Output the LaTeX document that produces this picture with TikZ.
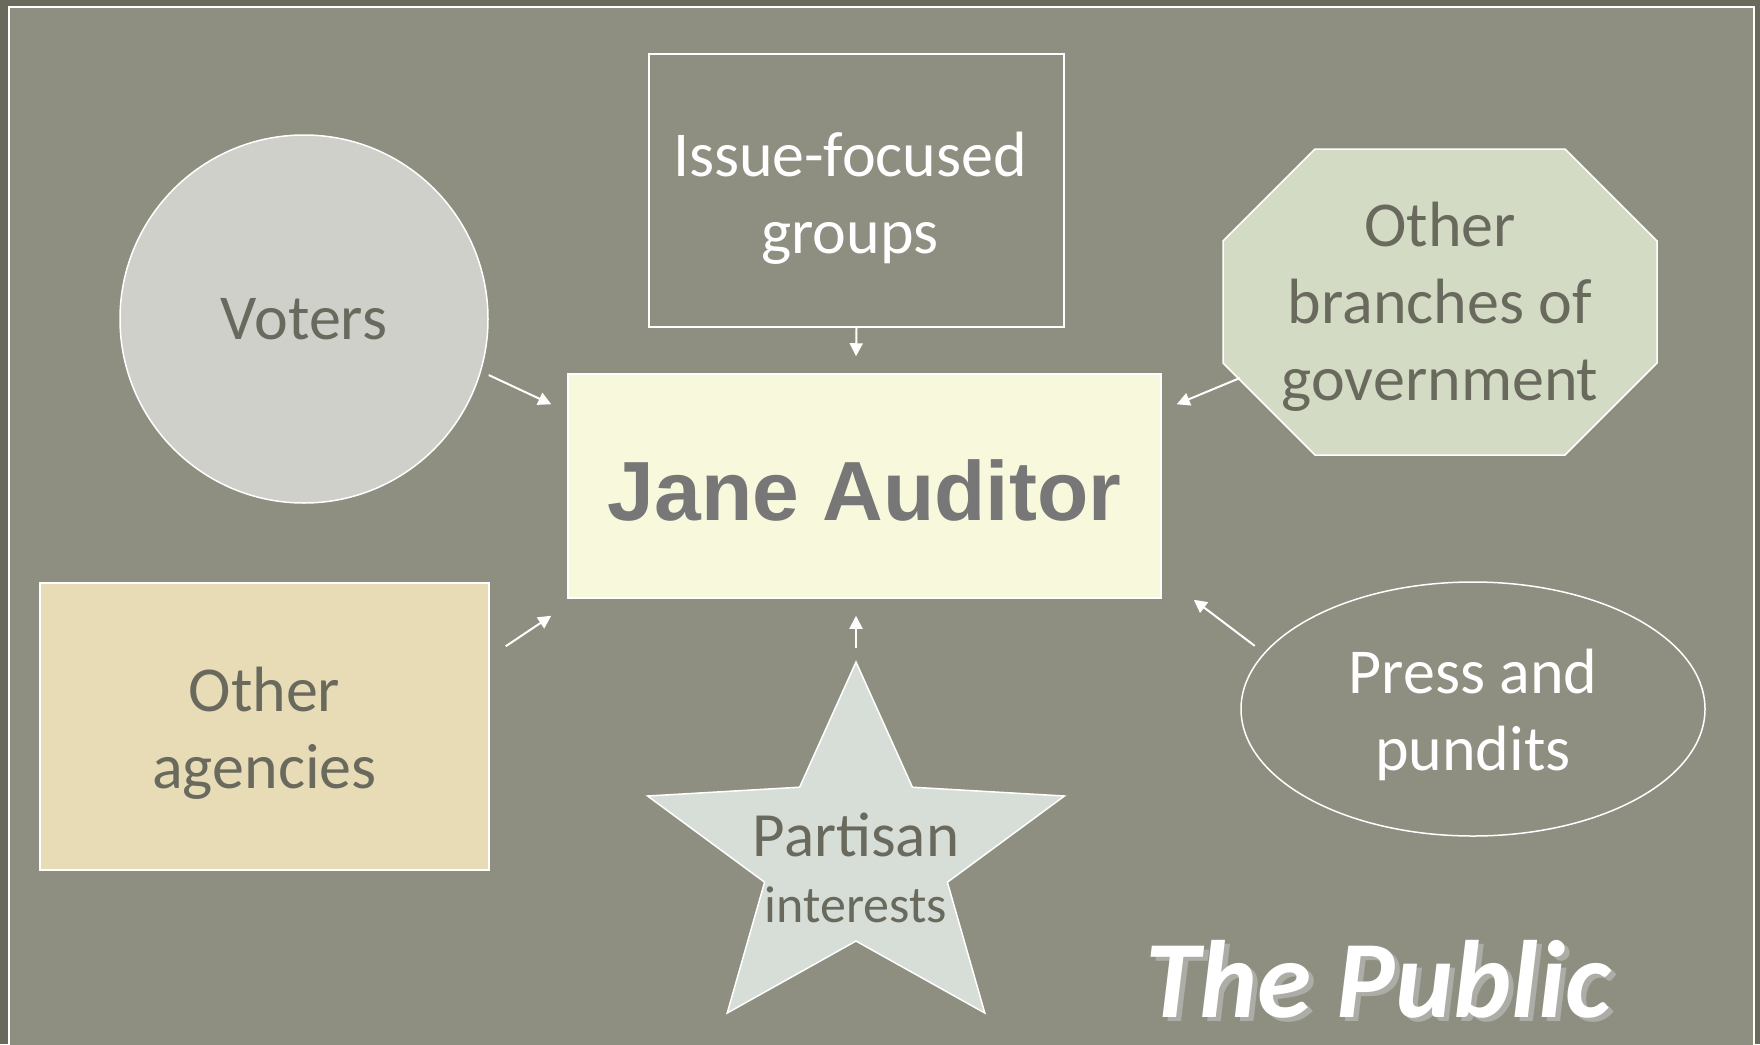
\documentclass[tikz,border=0pt]{standalone}
\usepackage{fontspec}
\setmainfont{Carlito}
\newfontfamily\arialfont{Liberation Sans}
\usetikzlibrary{shapes.geometric,arrows.meta}
\definecolor{slate}{HTML}{8E8F80}
\definecolor{slatedark}{HTML}{696A5C}
\definecolor{inkgrey}{HTML}{696A5D}
\definecolor{votersfill}{HTML}{CFD0CA}
\definecolor{janefill}{HTML}{F8F8DC}
\definecolor{janeink}{HTML}{777777}
\definecolor{branchfill}{HTML}{D4DBC4}
\definecolor{agencyfill}{HTML}{E8DCB6}
\definecolor{starfill}{HTML}{D6DED7}
\definecolor{shadowgrey}{HTML}{ADADA8}

\begin{document}
\begin{tikzpicture}
[every node/.style={inner sep=0pt},
 outline/.style={line width=0.75pt, draw=white},
 bodytext/.style={align=center, font=\fontsize{32pt}{38.5pt}\selectfont, text=inkgrey},
 push/.style={line width=1pt, -{Triangle[length=6.5pt,width=6.5pt]}, color=white}]
\useasboundingbox (0pt,0pt) rectangle (880pt,-522pt);
\fill [slatedark] (0pt,0pt) rectangle (880pt,-522pt);
\fill [slate] (4.5pt,-3.5pt) rectangle (877pt,-525pt);
\draw [line width=1pt, white] (4.5pt,-530pt) -- (4.5pt,-3.5pt) -- (877pt,-3.5pt) -- (877pt,-530pt);

% the auditor and the groups round her
\node (jane) [rectangle, minimum width=296.5pt, minimum height=112pt, fill=janefill, outline] at (432.25pt, -243pt) {};
\node (janetext) [font=\arialfont\bfseries\fontsize{42pt}{50pt}\selectfont, text=janeink] at (432.25pt, -245pt) {Jane Auditor};
\node (voters) [circle, minimum size=184pt, fill=votersfill, outline, bodytext] at (152pt, -159.5pt) {Voters};
\node (issue) [rectangle, minimum width=207.5pt, minimum height=136.5pt, outline] at (428.25pt, -95.25pt) {};
\node (issuetext) [bodytext, text=white] at (425pt, -99pt) {Issue-focused\\groups};
\node (agencies) [rectangle, minimum width=224.5pt, minimum height=143.5pt, fill=agencyfill, outline] at (132.25pt, -363.25pt) {};
\node (agenciestext) [bodytext] at (132.25pt, -366.5pt) {Other\\agencies};
\node (press) [ellipse, minimum width=232pt, minimum height=127pt, outline] at (736.5pt, -354.5pt) {};
\node (presstext) [bodytext, text=white] at (736.5pt, -357.5pt) {Press and\\pundits};

% octagon
\draw [outline, fill=branchfill] (657.5pt,-74.5pt) -- (782.5pt,-74.5pt) -- (828.5pt,-120.5pt) -- (828.5pt,-181.5pt) -- (782.5pt,-227.5pt) -- (657.5pt,-227.5pt) -- (611.5pt,-181.5pt) -- (611.5pt,-120.5pt) -- cycle;
\node (branches) [bodytext] at (720pt, -153.5pt) {Other\\branches of\\government};
\coordinate (brtail) at (620pt, -189pt);

% star
\draw [outline, fill=starfill] (428pt,-331pt) -- (399.8pt,-393.6pt) -- (323.8pt,-398pt) -- (382.3pt,-441.1pt) -- (363.6pt,-506.5pt) -- (428pt,-470.5pt) -- (492.4pt,-506.5pt) -- (473.7pt,-441.1pt) -- (532.2pt,-398pt) -- (456.2pt,-393.6pt) -- cycle;
\node (partisan) [anchor=base, font=\fontsize{31.5pt}{38pt}\selectfont, text=inkgrey] at (428pt, -428pt) {Partisan};
\node (interests) [anchor=base, font=\fontsize{26pt}{31pt}\selectfont, text=inkgrey] at (428pt, -461pt) {interests};
\coordinate (startip) at (428pt, -324pt);

\draw [push] ([shift={(4pt,-1pt)}]voters.-17) -- ([shift={(-8pt,-15.5pt)}]jane.north west);
\draw [push] (issue.south) -- ([shift={(-4.25pt,8.5pt)}]jane.north);
\draw [push] (brtail) -- ([shift={(7.5pt,-15.5pt)}]jane.north east);
\draw [push] ([shift={(8pt,-32pt)}]agencies.north east) -- ([shift={(-8pt,-8.5pt)}]jane.south west);
\draw [push] (startip) -- ([shift={(-4.25pt,-8.5pt)}]jane.south);
\draw [push] ([shift={(-6pt,2pt)}]press.164) -- ([shift={(16pt,-0.5pt)}]jane.south east);

\node (publicshadow) [anchor=base west, font=\bfseries\itshape\fontsize{55pt}{60pt}\selectfont, text=shadowgrey] at (575pt, -510.5pt) {The Public};
\node (public) [anchor=base west, font=\bfseries\itshape\fontsize{55pt}{60pt}\selectfont, text=white] at (572.5pt, -508.5pt) {The Public};
\end{tikzpicture}
\end{document}
